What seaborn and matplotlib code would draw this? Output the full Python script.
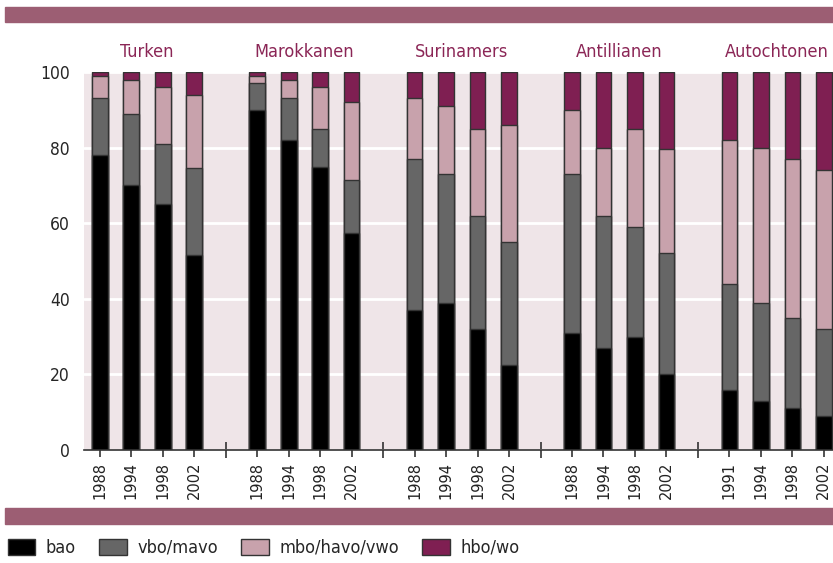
import numpy as np
import pandas as pd
import seaborn as sns
import matplotlib.pyplot as plt
from matplotlib.patches import Rectangle, Patch

groups = ['Turken', 'Marokkanen', 'Surinamers', 'Antillianen', 'Autochtonen']
years = [['1988', '1994', '1998', '2002'],
         ['1988', '1994', '1998', '2002'],
         ['1988', '1994', '1998', '2002'],
         ['1988', '1994', '1998', '2002'],
         ['1991', '1994', '1998', '2002']]
levels = ['bao', 'vbo/mavo', 'mbo/havo/vwo', 'hbo/wo']

bao = [78, 70, 65, 51.7, 90, 82, 75, 57.5, 37, 39, 32, 22.4,
       31, 27, 30, 20, 16, 13, 11, 9]
vbo = [15, 19, 16, 22.8, 7, 11, 10, 14, 40, 34, 30, 32.6,
       42, 35, 29, 32, 28, 26, 24, 23]
mbo = [6, 9, 15, 19.5, 2, 5, 11, 20.5, 16, 18, 23, 31,
       17, 18, 26, 27.6, 38, 41, 42, 42]
hbo = [1, 2, 4, 6, 1, 2, 4, 8, 7, 9, 15, 14,
       10, 20, 15, 20.4, 18, 20, 23, 26]

colors = ['#000000', '#666666', '#c8a2ac', '#7f1f52']
band = '#9c5e73'
label_col = '#8b2656'

# slot positions: 4 bars per group, one empty slot between groups
pos = [g * 5 + i for g in range(5) for i in range(4)]
df = pd.DataFrame({'pos': pos,
                   'year': [y for ys in years for y in ys],
                   'bao': bao, 'vbo': vbo, 'mbo': mbo, 'hbo': hbo})
df['c1'] = df['bao']
df['c2'] = df['c1'] + df['vbo']
df['c3'] = df['c2'] + df['mbo']
df['c4'] = df['c3'] + df['hbo']

sns.set_style('white')
plt.rcParams['font.family'] = ['DejaVu Sans']
plt.rcParams['font.stretch'] = 'condensed'

fig = plt.figure(figsize=(8.33, 5.63), dpi=100)
ax = fig.add_axes([84 / 833, 113 / 563, 749 / 833, 378 / 563])
ax.set_facecolor('#efe5e8')

# stacked bars drawn as overlapping cumulative totals
for col, c in zip(['c4', 'c3', 'c2', 'c1'], colors[::-1]):
    sns.barplot(data=df, x='pos', y=col, native_scale=True, color=c,
                width=0.5, edgecolor='#333333', linewidth=1, ax=ax,
                errorbar=None, saturation=1)

ax.set_xlim(-0.5, 23.29)
ax.set_ylim(0, 100)
ax.set_yticks([0, 20, 40, 60, 80, 100])
ax.yaxis.grid(True, color='white', linewidth=2)
ax.set_axisbelow(True)
for s in ['top', 'right', 'left']:
    ax.spines[s].set_visible(False)
ax.spines['bottom'].set_color('#333333')
ax.spines['bottom'].set_linewidth(1.2)

ax.set_xticks(df['pos'])
ax.set_xticklabels(df['year'], rotation=90, fontstretch='normal', fontsize=10.5,
                   color='#222222')
ax.set_xticks([4, 9, 14, 19], minor=True)
ax.tick_params(axis='x', which='major', bottom=True, direction='out', length=5,
               color='#333333', width=1.2)
ax.tick_params(axis='x', which='minor', bottom=True, direction='inout', length=11,
               color='#333333', width=1.2)
ax.tick_params(axis='y', labelsize=12.5, length=0, pad=10)
ax.set_xlabel('')
ax.set_ylabel('')

for g, name in enumerate(groups):
    ax.text(g * 5 + 1.5, 103, name, ha='center', va='bottom', fontsize=13,
            color=label_col)

fig.patches.append(Rectangle((5 / 833, 1 - 22 / 563), 1, 15 / 563,
                             transform=fig.transFigure, color=band))
fig.patches.append(Rectangle((5 / 833, 1 - 524 / 563), 1, 16 / 563,
                             transform=fig.transFigure, color=band))

handles = [Patch(facecolor=c, edgecolor='#333333', linewidth=1) for c in colors]
fig.legend(handles, levels, loc='center left',
           bbox_to_anchor=(-0.01, 1 - 548 / 563),
           ncol=4, frameon=False, fontsize=13, handlelength=1.5,
           handleheight=0.95, handletextpad=0.6, columnspacing=1.3)

fig.savefig('out.png', dpi=100)
